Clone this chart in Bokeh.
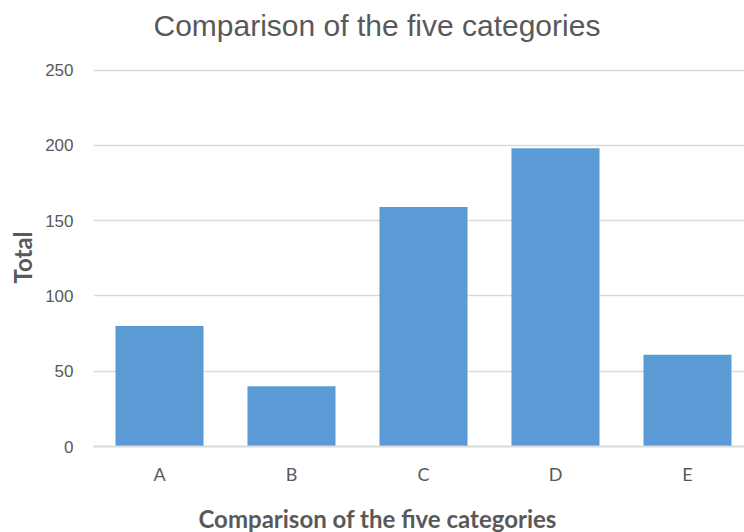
from bokeh.plotting import figure
from bokeh.models import Range1d, Title, SingleIntervalTicker, FixedTicker
from bokeh.embed import file_html
from bokeh.resources import INLINE

categories = ["A", "B", "C", "D", "E"]
totals = [80, 40, 159, 198, 61]
title_text = "Comparison of the five categories"
x_label = "Comparison  of the five categories"
y_label = "Total"

GRAY = "#595959"
GRID = "#d9d9d9"
BAR = "#5B9BD5"

xs = [i + 0.5 for i in range(len(categories))]

p = figure(x_range=Range1d(0, 4.932), y_range=Range1d(0, 251), width=744, height=532,
           output_backend="svg", toolbar_location=None, title=None,
           min_border_left=93, min_border_right=0, min_border_bottom=0, min_border_top=0)

xax = p.xaxis[0]
yax = p.yaxis[0]


def spacer(size):
    # blank 1px title used only to reserve vertical room
    return Title(text=" ", standoff=size, text_font_size="1px", text_color="white")


p.add_layout(spacer(17), "above")
t = Title(text=title_text, align="left", offset=60, standoff=13, text_font="Liberation Sans",
          text_font_size="30px", text_font_style="normal", text_color=GRAY)
p.add_layout(t, "above")

p.add_layout(spacer(11), "below")
xt = Title(text=x_label, align="left", offset=105, standoff=0, text_font="Lato",
           text_font_size="24px", text_font_style="bold", text_color=GRAY)
p.add_layout(xt, "below")

p.vbar(x=xs, top=totals, width=0.667, color=BAR, line_color=None)

p.outline_line_color = None
p.xgrid.grid_line_color = None
p.ygrid.grid_line_color = GRID
p.ygrid.grid_line_width = 1.5
yax.ticker = SingleIntervalTicker(interval=50)
xax.ticker = FixedTicker(ticks=xs)
xax.major_label_overrides = {x: c for x, c in zip(xs, categories)}

for ax in (xax, yax):
    ax.major_tick_line_color = None
    ax.minor_tick_line_color = None
    ax.major_tick_out = 0
    ax.major_tick_in = 0
    ax.minor_tick_out = 0
    ax.major_label_text_color = GRAY
    ax.axis_label_text_font = "Lato"
    ax.axis_label_text_font_style = "bold"
    ax.axis_label_text_font_size = "24px"
    ax.axis_label_text_color = GRAY

xax.major_label_text_font = "Lato"
xax.major_label_text_font_size = "18px"
yax.major_label_text_font = "Liberation Sans"
yax.major_label_text_font_size = "17px"

yax.axis_line_color = None
xax.axis_line_color = GRID
xax.axis_line_width = 2
yax.axis_label = y_label
xax.major_label_standoff = 16
yax.major_label_standoff = 20
yax.axis_label_standoff = 5

open("out.html", "w").write(file_html(p, INLINE))
